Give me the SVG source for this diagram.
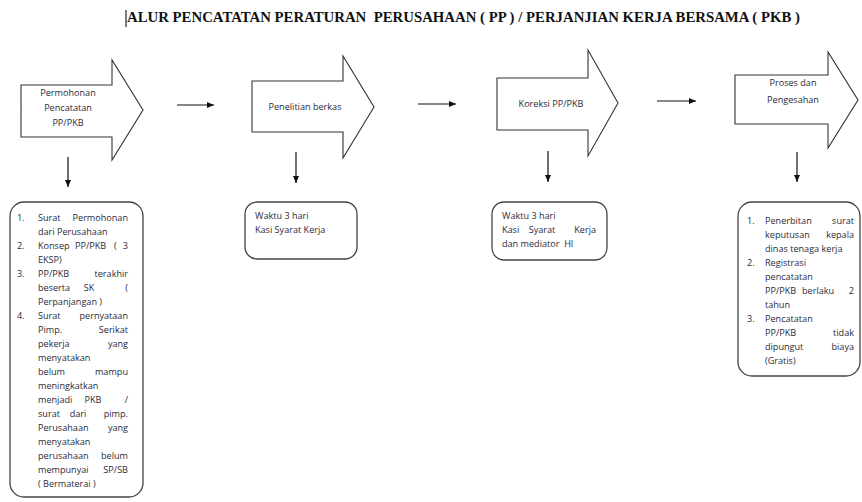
<svg xmlns="http://www.w3.org/2000/svg" width="862" height="502" viewBox="0 0 862 502">
<defs>
<marker id="ah" markerWidth="8" markerHeight="8" refX="7" refY="4" orient="auto" markerUnits="userSpaceOnUse">
<path d="M0,1 L7,4 L0,7 Z" fill="#111"/>
</marker>
<style>
.bg{fill:#fff}
.arr{fill:#fff;stroke:#333;stroke-width:1.1}
.box{fill:#fff;stroke:#444;stroke-width:1.3}
.conn{stroke:#111;stroke-width:1.2;fill:none;marker-end:url(#ah)}
.t{font-family:"Open Sans","Noto Sans","Liberation Sans",sans-serif;font-size:9.1px;fill:#2a2a3a}
.c{text-anchor:middle}
.e{text-anchor:end}
.title{font-family:"Liberation Serif","Times New Roman",serif;font-size:14px;font-weight:bold;fill:#111}
</style>
</defs>
<rect class="bg" width="862" height="502"/>
<g id="title">
<line x1="126" y1="10" x2="126" y2="27" stroke="#222" stroke-width="1.2"/>
<text class="title" x="127" y="22" textLength="673" lengthAdjust="spacingAndGlyphs" xml:space="preserve">ALUR PENCATATAN PERATURAN  PERUSAHAAN ( PP ) / PERJANJIAN KERJA BERSAMA ( PKB )</text>
</g>
<g id="step1">
<polygon class="arr" points="21,85 112,85 112,60 143,110 112,160 112,137 21,137"/>
<text class="t c" x="68" y="96">Permohonan</text>
<text class="t c" x="68" y="111">Pencatatan</text>
<text class="t c" x="68" y="126">PP/PKB</text>
</g>
<g id="step2">
<polygon class="arr" points="252,81 343,81 343,56 374,107 343,158 343,132 252,132"/>
<text class="t c" x="305" y="110">Penelitian berkas</text>
</g>
<g id="step3">
<polygon class="arr" points="497,78 588,78 588,50 618,103 588,156 588,130 497,130"/>
<text class="t c" x="551" y="107">Koreksi PP/PKB</text>
</g>
<g id="step4">
<polygon class="arr" points="735,75 828,75 828,52 858,100 828,148 828,124 735,124"/>
<text class="t c" x="793" y="86">Proses dan</text>
<text class="t c" x="793" y="103">Pengesahan</text>
</g>
<g id="connectors">
<line class="conn" x1="177" y1="105" x2="214" y2="105"/>
<line class="conn" x1="418" y1="104" x2="456" y2="104"/>
<line class="conn" x1="657" y1="101" x2="696" y2="101"/>
<line class="conn" x1="68" y1="157" x2="68" y2="187"/>
<line class="conn" x1="296" y1="152" x2="296" y2="183"/>
<line class="conn" x1="548" y1="151" x2="548" y2="182"/>
<line class="conn" x1="797" y1="152" x2="797" y2="182"/>
</g>
<g id="box1">
<rect class="box" x="10" y="202" width="133" height="295" rx="14"/>
<text class="t" x="17" y="221">1.</text>
<text class="t"><tspan x="38" y="221">Surat</tspan><tspan class="e" x="128" y="221">Permohonan</tspan></text>
<text class="t" x="38" y="235">dari Perusahaan</text>
<text class="t" x="17" y="249">2.</text>
<text class="t"><tspan x="38" y="249">Konsep</tspan><tspan x="75" y="249">PP/PKB</tspan><tspan x="114" y="249">(</tspan><tspan class="e" x="128" y="249">3</tspan></text>
<text class="t" x="38" y="263">EKSP)</text>
<text class="t" x="17" y="277">3.</text>
<text class="t"><tspan x="38" y="277">PP/PKB</tspan><tspan class="e" x="128" y="277">terakhir</tspan></text>
<text class="t"><tspan x="38" y="291">beserta</tspan><tspan class="c" x="89" y="291">SK</tspan><tspan class="e" x="128" y="291">(</tspan></text>
<text class="t" x="38" y="305">Perpanjangan )</text>
<text class="t" x="17" y="319">4.</text>
<text class="t"><tspan x="38" y="319">Surat</tspan><tspan class="e" x="128" y="319">pernyataan</tspan></text>
<text class="t"><tspan x="38" y="333">Pimp.</tspan><tspan class="e" x="128" y="333">Serikat</tspan></text>
<text class="t"><tspan x="38" y="347">pekerja</tspan><tspan class="e" x="128" y="347">yang</tspan></text>
<text class="t" x="38" y="361">menyatakan</text>
<text class="t"><tspan x="38" y="375">belum</tspan><tspan class="e" x="128" y="375">mampu</tspan></text>
<text class="t" x="38" y="389">meningkatkan</text>
<text class="t"><tspan x="38" y="403">menjadi</tspan><tspan class="c" x="93" y="403">PKB</tspan><tspan class="e" x="128" y="403">/</tspan></text>
<text class="t"><tspan x="38" y="417">surat</tspan><tspan class="c" x="78" y="417">dari</tspan><tspan class="e" x="128" y="417">pimp.</tspan></text>
<text class="t"><tspan x="38" y="431">Perusahaan</tspan><tspan class="e" x="128" y="431">yang</tspan></text>
<text class="t" x="38" y="445">menyatakan</text>
<text class="t"><tspan x="38" y="459">perusahaan</tspan><tspan class="e" x="128" y="459">belum</tspan></text>
<text class="t"><tspan x="38" y="473">mempunyai</tspan><tspan class="e" x="128" y="473">SP/SB</tspan></text>
<text class="t" x="38" y="487">( Bermaterai )</text>
</g>
<g id="box2">
<rect class="box" x="245" y="202" width="112" height="57" rx="12"/>
<text class="t" x="255" y="219">Waktu 3 hari</text>
<text class="t" x="255" y="233">Kasi Syarat Kerja</text>
</g>
<g id="box3">
<rect class="box" x="492" y="202" width="115" height="58" rx="12"/>
<text class="t" x="502" y="219">Waktu 3 hari</text>
<text class="t"><tspan x="502" y="233">Kasi</tspan><tspan class="c" x="542" y="233">Syarat</tspan><tspan class="e" x="596" y="233">Kerja</tspan></text>
<text class="t" x="502" y="247" xml:space="preserve">dan mediator  HI</text>
</g>
<g id="box4">
<rect class="box" x="738" y="202" width="122" height="174" rx="14"/>
<text class="t" x="747" y="224">1.</text>
<text class="t"><tspan x="765" y="224">Penerbitan</tspan><tspan class="e" x="854" y="224">surat</tspan></text>
<text class="t"><tspan x="765" y="238">keputusan</tspan><tspan class="e" x="854" y="238">kepala</tspan></text>
<text class="t" x="765" y="252">dinas tenaga kerja</text>
<text class="t" x="747" y="266">2.</text>
<text class="t" x="765" y="266">Registrasi</text>
<text class="t" x="765" y="280">pencatatan</text>
<text class="t"><tspan x="765" y="294">PP/PKB</tspan><tspan x="802" y="294">berlaku</tspan><tspan class="e" x="854" y="294">2</tspan></text>
<text class="t" x="765" y="308">tahun</text>
<text class="t" x="747" y="322">3.</text>
<text class="t" x="765" y="322">Pencatatan</text>
<text class="t"><tspan x="765" y="336">PP/PKB</tspan><tspan class="e" x="854" y="336">tidak</tspan></text>
<text class="t"><tspan x="765" y="350">dipungut</tspan><tspan class="e" x="854" y="350">biaya</tspan></text>
<text class="t" x="765" y="364">(Gratis)</text>
</g>
</svg>
